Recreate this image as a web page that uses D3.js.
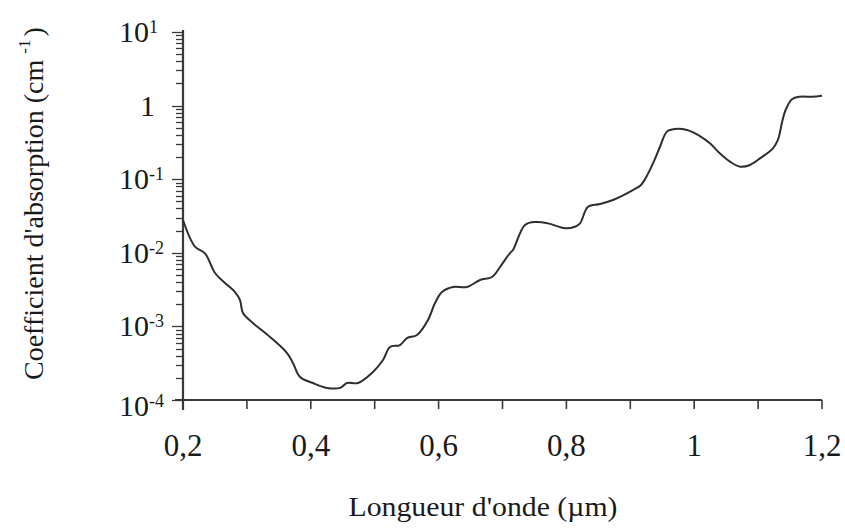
<!DOCTYPE html>
<html>
<head>
<meta charset="utf-8">
<script src="https://cdn.jsdelivr.net/npm/d3@7"></script>
<style>
  html, body { margin: 0; padding: 0; background: #fff; }
  svg { display: block; }
  text { font-family: "Liberation Serif", "Times New Roman", Times, serif; fill: #1a1a1a; }
</style>
</head>
<body>
<svg id="chart" width="845" height="530"></svg>
<script>
// Wavelength (µm)
const wavelength = [
  0.200, 0.2188, 0.2344, 0.2501, 0.2657, 0.2814, 0.2892, 0.2939, 0.3095, 0.3362,
  0.3628, 0.3721, 0.3831, 0.4034, 0.4253, 0.4457, 0.4566, 0.4739, 0.4973, 0.5130,
  0.5239, 0.5396, 0.5505, 0.5662, 0.5834, 0.5944, 0.6053, 0.6225, 0.6444, 0.6648,
  0.6836, 0.6961, 0.7117, 0.7164, 0.7352, 0.7524, 0.7712, 0.7980, 0.8134, 0.8213,
  0.8338, 0.8526, 0.8729, 0.9040, 0.9167, 0.9280, 0.9390, 0.9465, 0.9574, 0.9700,
  0.9887, 1.0090, 1.0246, 1.0400, 1.0560, 1.0717, 1.0873, 1.1030, 1.1233, 1.1310,
  1.1377, 1.1430, 1.1530, 1.1650, 1.1840, 1.2000
];
// Absorption coefficient (cm^-1)
const absorption = [
  0.0279, 0.0121, 0.00984, 0.00532, 0.00389, 0.00293, 0.00228, 0.00152, 0.00111, 0.000718,
  0.000435, 0.000318, 0.000205, 0.000170, 0.000146, 0.000146, 0.000170, 0.000170, 0.000240, 0.000349,
  0.000525, 0.000558, 0.000695, 0.000764, 0.00122, 0.00208, 0.00293, 0.00343, 0.00343, 0.00427,
  0.00469, 0.00641, 0.00993, 0.0109, 0.0239, 0.0262, 0.0251, 0.0215, 0.0226, 0.0251,
  0.0423, 0.0460, 0.0522, 0.0713, 0.0834, 0.120, 0.192, 0.276, 0.443, 0.481,
  0.466, 0.386, 0.308, 0.225, 0.173, 0.148, 0.156, 0.192, 0.263, 0.341,
  0.604, 0.871, 1.22, 1.32, 1.32, 1.36
];
const xTickValues = [0.2, 0.3, 0.4, 0.5, 0.6, 0.7, 0.8, 0.9, 1.0, 1.1, 1.2];
const xTickLabels = ["0,2", "0,4", "0,6", "0,8", "1", "1,2"];
const xLabelValues = [0.2, 0.4, 0.6, 0.8, 1.0, 1.2];
const yExponents = [1, 0, -1, -2, -3, -4];
const xTitle = "Longueur d'onde (µm)";
const yTitleMain = "Coefficient d'absorption (cm";
const yTitleSup = "-1";

const svg = d3.select("#chart");
svg.append("rect").attr("width", 845).attr("height", 530).attr("fill", "#fff");

const x = d3.scaleLinear().domain([0.2, 1.2]).range([183, 822]);
const y = d3.scaleLog().domain([1e-4, 10]).range([400, 32]);

const axisColor = "#3a3a3a";
const serif = "'Liberation Serif', 'Times New Roman', Times, serif";

// y axis line
svg.append("line")
  .attr("x1", x(0.2)).attr("x2", x(0.2))
  .attr("y1", y(10) - 2).attr("y2", y(1e-4) + 10)
  .attr("stroke", axisColor).attr("stroke-width", 2.2);

// y ticks (major + minor)
const yTicks = y.ticks();
svg.append("g").selectAll("line").data(yTicks).join("line")
  .attr("x1", d => x(0.2) - (Math.abs(Math.log10(d) - Math.round(Math.log10(d))) < 1e-9 ? 11 : 7))
  .attr("x2", x(0.2))
  .attr("y1", d => Math.round(y(d)) + 0.5).attr("y2", d => Math.round(y(d)) + 0.5)
  .attr("stroke", axisColor).attr("stroke-width", 1.3);

// x axis line
svg.append("line")
  .attr("x1", x(0.2) - 8).attr("x2", x(1.2))
  .attr("y1", y(1e-4)).attr("y2", y(1e-4))
  .attr("stroke", axisColor).attr("stroke-width", 2.2);

// x ticks
svg.append("g").selectAll("line").data(xTickValues).join("line")
  .attr("x1", d => x(d)).attr("x2", d => x(d))
  .attr("y1", y(1e-4)).attr("y2", y(1e-4) + 9)
  .attr("stroke", axisColor).attr("stroke-width", 1.6);

// x labels
svg.append("g").selectAll("text").data(xLabelValues).join("text")
  .attr("x", d => x(d)).attr("y", 456)
  .attr("text-anchor", "middle")
  .attr("font-family", serif)
  .attr("font-size", 31)
  .text((d, i) => xTickLabels[i]);

// y labels
const yl = svg.append("g").attr("font-family", serif);
yExponents.forEach(e => {
  const yy = y(Math.pow(10, e)) + (e === -4 ? 16 : 10);
  if (e === 0) {
    yl.append("text").attr("x", 155).attr("y", yy).attr("text-anchor", "end")
      .attr("font-size", 30).text("1");
  } else {
    yl.append("text").attr("x", 149).attr("y", yy).attr("text-anchor", "end")
      .attr("font-size", 30).text("10");
    yl.append("text").attr("x", 149).attr("y", yy - 9).attr("text-anchor", "start")
      .attr("font-size", 18).text(e > 0 ? String(e) : "-" + Math.abs(e));
  }
});

// curve
const pts = wavelength.map((w, i) => [w, absorption[i]]);
const line = d3.line()
  .x(d => x(d[0])).y(d => y(d[1]))
  .curve(d3.curveCatmullRom.alpha(0.5));
svg.append("path").datum(pts)
  .attr("d", line)
  .attr("fill", "none")
  .attr("stroke", "#2e2e2e")
  .attr("stroke-width", 2);

// x title
svg.append("text")
  .attr("x", 483).attr("y", 516)
  .attr("text-anchor", "middle")
  .attr("font-family", serif)
  .attr("font-size", 28)
  .attr("textLength", 269).attr("lengthAdjust", "spacingAndGlyphs")
  .text(xTitle);

// y title (rotated)
const yt = svg.append("text")
  .attr("transform", "translate(43,380) rotate(-90)")
  .attr("text-anchor", "start")
  .attr("font-family", serif)
  .attr("font-size", 28);
yt.append("tspan").text(yTitleMain);
yt.append("tspan").attr("dx", 6).attr("dy", -13).attr("font-size", 17).text(yTitleSup);
yt.append("tspan").attr("dx", 3).attr("dy", 13).text(")");
</script>
</body>
</html>
